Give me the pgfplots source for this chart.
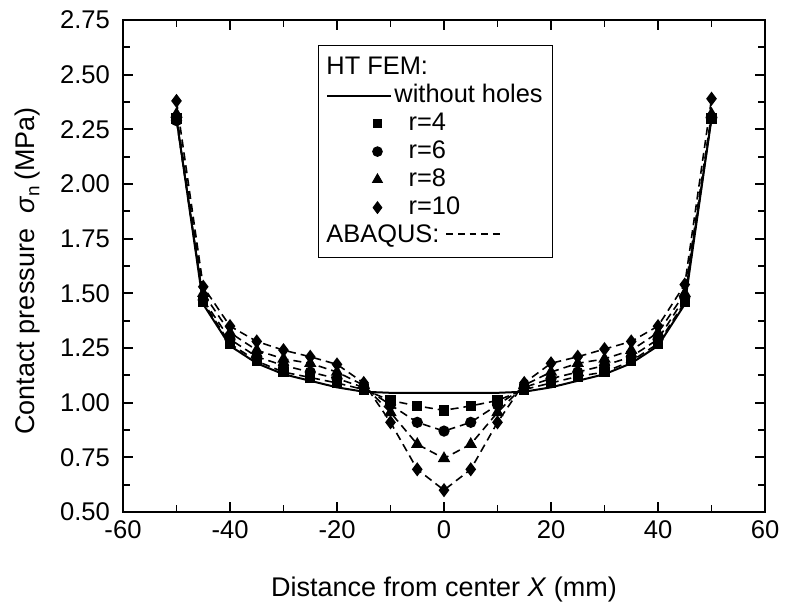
\documentclass[border=0pt]{standalone}
\usepackage{fontspec}
\setmainfont{Liberation Sans}
\usepackage{pgfplots}
\pgfplotsset{compat=1.18}
\usepackage{pgfplotstable}

\pgfplotsset{
  legline/.style={legend image code/.code={\path[draw=none,fill=none] (0pt,-2pt) rectangle (32pt,2pt); \draw[##1] (0pt,0pt) -- (32pt,0pt);}},
  legmark/.style={legend image code/.code={\path[draw=none,fill=none] (0pt,-2pt) rectangle (32pt,2pt); \draw[##1] plot[only marks] coordinates {(25pt,0pt)};}},
}

\pgfplotstableread{
x     s0     s4     s6     s8     s10
-50   2.30   2.30   2.29   2.32   2.38
-45   1.45   1.46   1.47   1.50   1.53
-40   1.26   1.27   1.29   1.32   1.35
-35   1.18   1.19   1.21   1.24   1.28
-30   1.13   1.14   1.17   1.20   1.24
-25   1.10   1.115  1.14   1.18   1.21
-20   1.07   1.09   1.11   1.14   1.175
-15   1.05   1.06   1.07   1.08   1.09
-10   1.045  1.01   0.99   0.955  0.91
-5    1.045  0.985  0.91   0.81   0.695
0     1.045  0.965  0.87   0.745  0.60
5     1.045  0.985  0.91   0.81   0.695
10    1.045  1.01   0.99   0.955  0.91
15    1.05   1.06   1.07   1.08   1.09
20    1.07   1.09   1.11   1.14   1.18
25    1.10   1.12   1.14   1.18   1.21
30    1.13   1.14   1.17   1.20   1.245
35    1.18   1.19   1.21   1.24   1.28
40    1.26   1.27   1.29   1.32   1.35
45    1.45   1.46   1.48   1.50   1.54
50    2.30   2.30   2.30   2.32   2.39
}\datatable

\newcommand{\dsh}{\rule[0.55ex]{3.4pt}{0.8pt}\hspace{2.4pt}}

\begin{document}
\begin{tikzpicture}
\begin{axis}[
  scale only axis,
  width=321pt, height=246pt,
  xmin=-60, xmax=60, ymin=0.5, ymax=2.75,
  xtick={-60,-40,...,60},
  minor xtick={-50,-30,...,50},
  ytick={0.5,0.75,...,2.76},
  minor ytick={0.625,0.875,...,2.7},
  tick align=inside,
  major tick length=5pt,
  minor tick length=3.5pt,
  axis line style={line width=1pt},
  every tick/.style={line width=0.9pt, black},
  /pgf/number format/assume math mode=true,
  ticklabel style={font=\fontsize{12.8}{15}\selectfont},
  xticklabel style={yshift=-1pt},
  yticklabel style={xshift=-3pt, /pgf/number format/.cd, fixed, fixed zerofill, precision=2},
  label style={font=\fontsize{13.5}{16}\selectfont},
  xlabel={Distance from center \textit{X} (mm)},
  ylabel={Contact pressure\ \ \textit{σ}\textsubscript{n}\,(MPa)},
  xlabel style={at={(axis description cs:0.5,-0.158)}, anchor=center},
  ylabel style={at={(axis description cs:-0.148,0.49)}, anchor=center},
  legend cell align=left,
  legend style={at={(axis description cs:0.3037,0.949)}, anchor=north west,
    draw=black, line width=0.5pt, font=\fontsize{12.7}{15}\selectfont,
    row sep=0pt, inner xsep=4pt, inner ysep=4pt,
    nodes={inner sep=1pt, text height=9.3pt, text depth=2.7pt}},
]
\addplot[black, line width=1pt, forget plot] table[x=x, y=s0] {\datatable};
\addplot[black, line width=0.8pt, dash pattern=on 4pt off 2.5pt, mark=square*, mark size=2.2pt, mark options={solid}, forget plot] table[x=x, y=s4] {\datatable};
\addplot[black, line width=0.8pt, dash pattern=on 4pt off 2.5pt, mark=*, mark size=2.4pt, mark options={solid}, forget plot] table[x=x, y=s6] {\datatable};
\addplot[black, line width=0.8pt, dash pattern=on 4pt off 2.5pt, mark=triangle*, mark size=2.8pt, mark options={solid}, forget plot] table[x=x, y=s8] {\datatable};
\addplot[black, line width=0.8pt, dash pattern=on 4pt off 2.5pt, mark=diamond*, mark size=2.9pt, mark options={solid}, forget plot] table[x=x, y=s10] {\datatable};

\addlegendimage{empty legend}
\addlegendentry{\hspace*{-34pt}HT FEM:}
\addlegendimage{black, line width=1pt, legline}
\addlegendentry{without holes}
\addlegendimage{black, mark=square*, mark size=2.2pt, legmark}
\addlegendentry{\ \ r=4}
\addlegendimage{black, mark=*, mark size=2.4pt, legmark}
\addlegendentry{\ \ r=6}
\addlegendimage{black, mark=triangle*, mark size=2.8pt, legmark}
\addlegendentry{\ \ r=8}
\addlegendimage{black, mark=diamond*, mark size=2.9pt, legmark}
\addlegendentry{\ \ r=10}
\addlegendimage{empty legend}
\addlegendentry{\hspace*{-34pt}ABAQUS: \dsh\dsh\dsh\dsh\dsh}
\end{axis}
\path (current axis.south west) ++(-61.5pt,-48.5pt) rectangle ++(398.5pt,304.5pt);
\end{tikzpicture}
\end{document}
